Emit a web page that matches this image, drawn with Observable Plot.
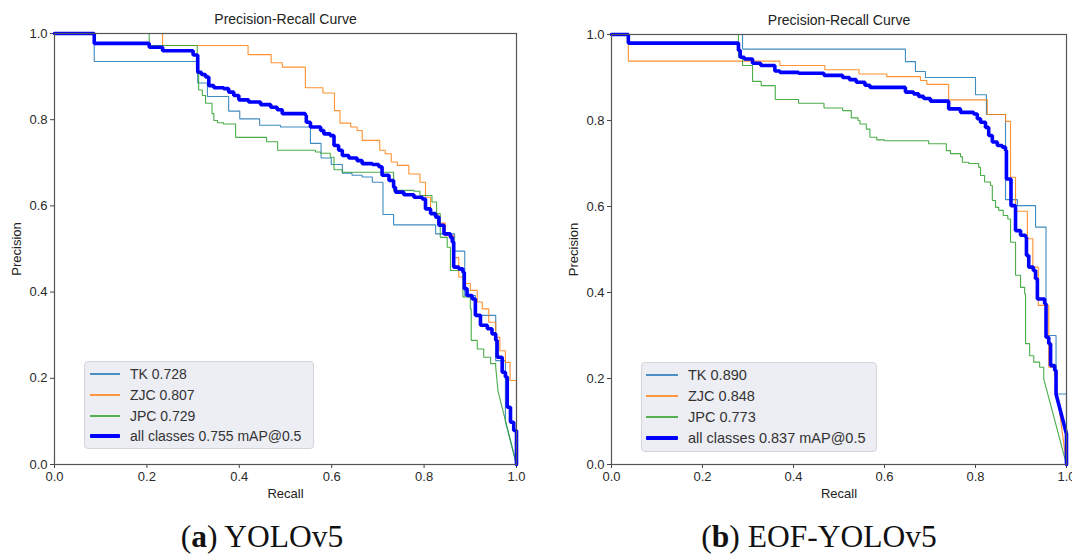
<!DOCTYPE html>
<html>
<head>
<meta charset="utf-8">
<script src="https://cdn.jsdelivr.net/npm/d3@7"></script>
<script src="https://cdn.jsdelivr.net/npm/@observablehq/plot@0.6"></script>
<style>
  body { margin: 0; background: #fff; }
  #root { position: relative; width: 1072px; height: 556px; overflow: hidden; background: #fff; font-family: "Liberation Sans", Arial, sans-serif; }
  .panel { position: absolute; top: 0; }
  .legend { position: absolute; background: rgba(235,235,243,0.92); border: 1px solid #d4d4dc; border-radius: 4px; box-sizing: border-box; }
  .row { position: absolute; left: 0; height: 0; white-space: nowrap; color: #333; }
  .row .sw { position: absolute; top: 0; }
  .row .tx { position: absolute; top: 0; transform: translateY(-50%); line-height: 1; }
  .caption { position: absolute; top: 521px; font-family: "Liberation Serif", "Times New Roman", serif; font-size: 31.5px; line-height: 32px; color: #111; white-space: nowrap; transform: translateX(-50%); }
</style>
</head>
<body>
<div id="root"></div>
<script>
// ---------- data (step points: [recall, precision after the drop]) ----------
const xTicks = [0, 0.2, 0.4, 0.6, 0.8, 1.0];
const yTicks = [0, 0.2, 0.4, 0.6, 0.8, 1.0];
const seriesNames = ["TK", "ZJC", "JPC", "all classes"];
const seriesColors = ["#1f77b4", "#ff7f0e", "#2ca02c", "#0000ff"];

// (a) YOLOv5
const aLabels = ["TK 0.728", "ZJC 0.807", "JPC 0.729", "all classes 0.755 mAP@0.5"];
const aTK = [[0,1],[0.086,0.935],[0.31,0.885],[0.331,0.854],[0.377,0.82],[0.401,0.802],[0.444,0.787],[0.489,0.783],[0.554,0.745],[0.577,0.711],[0.599,0.696],[0.623,0.676],[0.644,0.671],[0.666,0.667],[0.688,0.655],[0.711,0.58],[0.734,0.556],[0.825,0.535],[0.866,0.495],[0.888,0.392],[0.911,0.346],[0.955,0.241],[0.976,0.1]];
const aTKTail = [[1,0]];
const aZJC = [[0,1],[0.234,0.972],[0.419,0.951],[0.469,0.932],[0.493,0.922],[0.543,0.874],[0.581,0.862],[0.606,0.821],[0.618,0.792],[0.641,0.783],[0.655,0.775],[0.666,0.752],[0.704,0.729],[0.716,0.721],[0.729,0.702],[0.742,0.694],[0.767,0.674],[0.791,0.655],[0.803,0.62],[0.814,0.582],[0.83,0.56],[0.846,0.531],[0.864,0.48],[0.875,0.435],[0.885,0.42],[0.9,0.404],[0.915,0.377],[0.926,0.361],[0.94,0.33],[0.955,0.295],[0.964,0.264],[0.976,0.237],[0.986,0.195],[1,0]];
const aZJCTail = [];
const aJPC = [[0,1],[0.205,0.972],[0.309,0.906],[0.312,0.869],[0.32,0.856],[0.327,0.838],[0.341,0.814],[0.345,0.798],[0.353,0.793],[0.366,0.79],[0.392,0.759],[0.459,0.749],[0.483,0.729],[0.565,0.725],[0.576,0.722],[0.597,0.713],[0.605,0.684],[0.623,0.678],[0.734,0.636],[0.778,0.634],[0.791,0.624],[0.817,0.609],[0.827,0.582],[0.835,0.527],[0.85,0.504],[0.857,0.45],[0.884,0.389],[0.9,0.361],[0.902,0.288],[0.915,0.268],[0.929,0.249],[0.944,0.234],[0.955,0.226]];
const aJPCTail = [[0.96,0.17],[1,0]];
const aAll = [[0,1],[0.086,0.977],[0.205,0.968],[0.234,0.96],[0.3,0.95],[0.31,0.91],[0.318,0.905],[0.327,0.899],[0.334,0.879],[0.345,0.874],[0.366,0.872],[0.377,0.864],[0.388,0.856],[0.399,0.846],[0.42,0.841],[0.446,0.835],[0.468,0.829],[0.482,0.823],[0.493,0.814],[0.543,0.81],[0.545,0.794],[0.554,0.783],[0.576,0.775],[0.583,0.767],[0.597,0.763],[0.605,0.74],[0.615,0.729],[0.623,0.717],[0.637,0.711],[0.655,0.705],[0.666,0.698],[0.688,0.696],[0.702,0.691],[0.709,0.671],[0.724,0.659],[0.734,0.643],[0.738,0.632],[0.756,0.626],[0.778,0.62],[0.796,0.616],[0.803,0.593],[0.814,0.582],[0.825,0.574],[0.832,0.555],[0.843,0.535],[0.857,0.527],[0.861,0.516],[0.864,0.458],[0.875,0.454],[0.884,0.446],[0.887,0.408],[0.893,0.392],[0.904,0.384],[0.911,0.346],[0.922,0.323],[0.937,0.315],[0.947,0.303],[0.955,0.288],[0.958,0.249],[0.969,0.214],[0.976,0.203],[0.98,0.133],[0.987,0.098],[0.994,0.079],[1,0]];
const aAllTail = [];

// (b) EOF-YOLOv5
const bLabels = ["TK 0.890", "ZJC 0.848", "JPC 0.773", "all classes 0.837 mAP@0.5"];
const bTK = [[0,1],[0.288,0.966],[0.646,0.937],[0.668,0.914],[0.69,0.9],[0.8,0.86],[0.824,0.814],[0.866,0.616],[0.892,0.602],[0.932,0.552],[0.955,0.3],[0.977,0.164],[1,0]];
const bTKTail = [];
const bZJC = [[0,1],[0.037,0.938],[0.37,0.928],[0.469,0.918],[0.544,0.908],[0.605,0.902],[0.679,0.893],[0.693,0.884],[0.741,0.848],[0.826,0.814],[0.866,0.798],[0.877,0.668],[0.888,0.589],[0.914,0.525],[0.926,0.459],[0.938,0.37],[0.961,0.226]];
const bZJCTail = [[0.972,0.226],[1,0]];
const bJPC = [[0,1],[0.279,0.947],[0.288,0.928],[0.31,0.891],[0.329,0.881],[0.36,0.849],[0.411,0.84],[0.467,0.829],[0.508,0.823],[0.527,0.806],[0.542,0.8],[0.546,0.792],[0.56,0.78],[0.568,0.761],[0.583,0.755],[0.6,0.753],[0.697,0.746],[0.736,0.73],[0.745,0.723],[0.767,0.716],[0.771,0.703],[0.785,0.7],[0.807,0.691],[0.811,0.672],[0.82,0.657],[0.833,0.649],[0.837,0.614],[0.844,0.598],[0.851,0.591],[0.861,0.579],[0.871,0.571],[0.877,0.517],[0.888,0.44],[0.899,0.412],[0.908,0.397],[0.91,0.281],[0.919,0.253],[0.928,0.238],[0.941,0.226],[0.95,0.199]];
const bJPCTail = [[1,0]];
const bAll = [[0,1],[0.037,0.98],[0.279,0.963],[0.283,0.947],[0.292,0.943],[0.31,0.933],[0.328,0.928],[0.359,0.915],[0.37,0.912],[0.411,0.91],[0.467,0.905],[0.508,0.9],[0.523,0.895],[0.538,0.889],[0.557,0.882],[0.568,0.877],[0.646,0.866],[0.664,0.862],[0.675,0.856],[0.686,0.851],[0.701,0.845],[0.741,0.827],[0.767,0.819],[0.796,0.815],[0.804,0.804],[0.811,0.796],[0.822,0.784],[0.829,0.765],[0.837,0.75],[0.848,0.742],[0.859,0.738],[0.866,0.73],[0.868,0.664],[0.878,0.602],[0.888,0.544],[0.899,0.533],[0.91,0.529],[0.912,0.486],[0.917,0.459],[0.927,0.451],[0.932,0.432],[0.936,0.385],[0.952,0.374],[0.955,0.296],[0.961,0.281],[0.965,0.23],[0.974,0.219],[0.977,0.164]];
const bAllTail = [[1,0.071],[1,0]];

// ---------- helpers ----------
function vertices(steps, tail) {
  const v = [{r: steps[0][0], p: steps[0][1]}];
  for (let i = 1; i < steps.length; i++) {
    v.push({r: steps[i][0], p: steps[i - 1][1]});
    v.push({r: steps[i][0], p: steps[i][1]});
  }
  for (const t of tail) v.push({r: t[0], p: t[1]});
  return v;
}

function makePanel(cfg) {
  const curves = cfg.curves.map(([s, t]) => vertices(s, t));
  return Plot.plot({
    width: cfg.width,
    height: 500,
    marginLeft: cfg.ml, marginRight: cfg.mr, marginTop: cfg.mt, marginBottom: 500 - 464,
    x: {domain: [0, 1]},
    y: {domain: [0, 1]},
    style: {fontFamily: "'Liberation Sans', Arial, sans-serif", fontSize: "13px", color: "#2a2a2a", background: "transparent", overflow: "visible"},
    marks: [
      Plot.axisX({ticks: xTicks, tickFormat: ".1f", tickSize: 4, tickPadding: 3, label: null, stroke: "#444"}),
      Plot.axisY({ticks: yTicks, tickFormat: ".1f", tickSize: 4, tickPadding: 3, label: null, stroke: "#444"}),
      ...curves.map((c, i) => Plot.line(c, {
        x: "r", y: "p",
        stroke: seriesColors[i],
        strokeWidth: i === 3 ? 3.6 : 1.1,
        strokeOpacity: i === 3 ? 1 : 0.85,
        strokeLinejoin: "miter"
      })),
      Plot.frame({stroke: "#555", strokeWidth: 1.2}),
      Plot.text(["Precision-Recall Curve"], {frameAnchor: "top", dy: -14, lineAnchor: "middle", fontSize: 14, fill: "#222"}),
      Plot.text(["Recall"], {frameAnchor: "bottom", dy: 29, lineAnchor: "middle", fontSize: 13, fill: "#222"}),
      Plot.text(["Precision"], {frameAnchor: "left", dx: -38, rotate: -90, textAnchor: "middle", lineAnchor: "middle", fontSize: 13, fill: "#222"})
    ]
  });
}

function makeLegend(root, cfg) {
  const box = document.createElement("div");
  box.className = "legend";
  Object.assign(box.style, {left: cfg.left + "px", top: cfg.top + "px", width: cfg.w + "px", height: cfg.h + "px"});
  cfg.labels.forEach((lab, i) => {
    const row = document.createElement("div");
    row.className = "row";
    row.style.top = cfg.rows[i] + "px";
    const sw = document.createElement("div");
    sw.className = "sw";
    const lw = i === 3 ? 4 : 2;
    Object.assign(sw.style, {left: cfg.swL + "px", width: cfg.swW + "px", height: lw + "px", marginTop: (-lw / 2) + "px", background: seriesColors[i], opacity: i === 3 ? 1 : 0.8, borderRadius: i === 3 ? "1px" : "0"});
    const tx = document.createElement("div");
    tx.className = "tx";
    tx.textContent = lab;
    Object.assign(tx.style, {left: cfg.txL + "px", fontSize: cfg.fs + "px"});
    row.appendChild(sw);
    row.appendChild(tx);
    box.appendChild(row);
  });
  root.appendChild(box);
}

// ---------- build ----------
const root = document.getElementById("root");

const left = document.createElement("div");
left.className = "panel";
left.style.left = "0px";
left.appendChild(makePanel({width: 536, ml: 54, mr: 20, mt: 33,
  curves: [[aTK, aTKTail], [aZJC, aZJCTail], [aJPC, aJPCTail], [aAll, aAllTail]]}));
root.appendChild(left);

const right = document.createElement("div");
right.className = "panel";
right.style.left = "556px";
right.appendChild(makePanel({width: 516, ml: 55, mr: 6, mt: 34,
  curves: [[bTK, bTKTail], [bZJC, bZJCTail], [bJPC, bJPCTail], [bAll, bAllTail]]}));
root.appendChild(right);

makeLegend(root, {left: 84, top: 361, w: 230, h: 88, rows: [12, 33, 54, 74], swL: 5, swW: 30, txL: 45, fs: 14, labels: aLabels});
makeLegend(root, {left: 641, top: 362, w: 236, h: 90, rows: [12, 33, 54, 75], swL: 4, swW: 32, txL: 46, fs: 14.5, labels: bLabels});

const capA = document.createElement("div");
capA.className = "caption";
capA.style.left = "262px";
capA.innerHTML = "(<b>a</b>) YOLOv5";
root.appendChild(capA);

const capB = document.createElement("div");
capB.className = "caption";
capB.style.left = "819px";
capB.innerHTML = "(<b>b</b>) EOF-YOLOv5";
root.appendChild(capB);
</script>
</body>
</html>
